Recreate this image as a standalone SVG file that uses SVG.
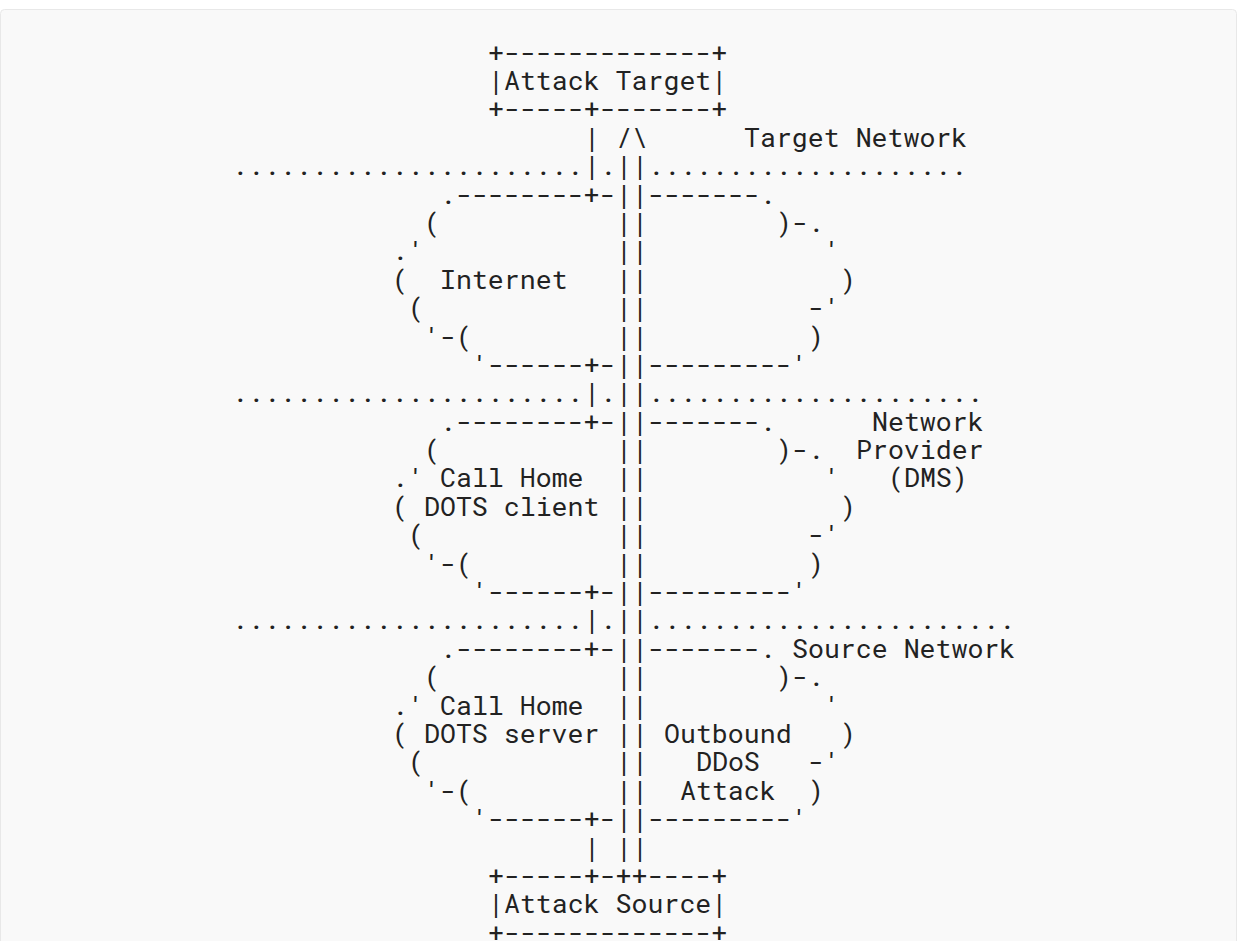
<svg xmlns="http://www.w3.org/2000/svg" width="1241" height="941" viewBox="0 0 1241 941">
<style>
text{font-family:"Roboto Mono","DejaVu Sans Mono","Liberation Mono",monospace;font-size:26.58px;fill:#222;white-space:pre}
</style>
<rect x="0.5" y="9.5" width="1236" height="960" rx="4" fill="#f9f9f9" stroke="#e8e8e8"/>
<g id="attack-target">
<text x="488" y="61.61">+-------------+</text>
<text x="488" y="90">|Attack Target|</text>
<text x="488" y="118.39">+-----+-------+</text>
</g>
<g id="target-network">
<text x="744" y="146.78">Target Network</text>
</g>
<g id="boundaries">
<text x="232" y="175.17">......................</text>
<text x="600" y="175.17">.</text>
<text x="648" y="175.17">....................</text>
<text x="232" y="402.29">......................</text>
<text x="600" y="402.29">.</text>
<text x="648" y="402.29">.....................</text>
<text x="232" y="629.41">......................</text>
<text x="600" y="629.41">.</text>
<text x="648" y="629.41">.......................</text>
</g>
<g id="cloud-internet">
<text x="440" y="203.56">.--------+-</text>
<text x="648" y="203.56">-------.</text>
<text x="424" y="231.95">(</text>
<text x="776" y="231.95">)-.</text>
<text x="392" y="260.34">.'</text>
<text x="824" y="260.34">'</text>
<text x="392" y="288.73">(</text>
<text x="440" y="288.73">Internet</text>
<text x="840" y="288.73">)</text>
<text x="408" y="317.12">(</text>
<text x="808" y="317.12">-'</text>
<text x="424" y="345.51">'-(</text>
<text x="808" y="345.51">)</text>
<text x="472" y="373.9">'------+-</text>
<text x="648" y="373.9">---------'</text>
</g>
<g id="cloud-provider">
<text x="440" y="430.68">.--------+-</text>
<text x="648" y="430.68">-------.</text>
<text x="424" y="459.07">(</text>
<text x="776" y="459.07">)-.</text>
<text x="392" y="487.46">.'</text>
<text x="440" y="487.46">Call Home</text>
<text x="824" y="487.46">'</text>
<text x="392" y="515.85">(</text>
<text x="424" y="515.85">DOTS client</text>
<text x="840" y="515.85">)</text>
<text x="408" y="544.24">(</text>
<text x="808" y="544.24">-'</text>
<text x="424" y="572.63">'-(</text>
<text x="808" y="572.63">)</text>
<text x="472" y="601.02">'------+-</text>
<text x="648" y="601.02">---------'</text>
</g>
<g id="network-provider-label">
<text x="872" y="430.68">Network</text>
<text x="856" y="459.07">Provider</text>
<text x="888" y="487.46">(DMS)</text>
</g>
<g id="cloud-source">
<text x="440" y="657.8">.--------+-</text>
<text x="648" y="657.8">-------.</text>
<text x="424" y="686.19">(</text>
<text x="776" y="686.19">)-.</text>
<text x="392" y="714.58">.'</text>
<text x="440" y="714.58">Call Home</text>
<text x="824" y="714.58">'</text>
<text x="392" y="742.97">(</text>
<text x="424" y="742.97">DOTS server</text>
<text x="840" y="742.97">)</text>
<text x="408" y="771.36">(</text>
<text x="808" y="771.36">-'</text>
<text x="424" y="799.75">'-(</text>
<text x="808" y="799.75">)</text>
<text x="472" y="828.14">'------+-</text>
<text x="648" y="828.14">---------'</text>
</g>
<g id="source-network">
<text x="792" y="657.8">Source Network</text>
</g>
<g id="attack-label">
<text x="664" y="742.97">Outbound</text>
<text x="696" y="771.36">DDoS</text>
<text x="680" y="799.75">Attack</text>
</g>
<g id="connectors">
<text x="584" y="146.78">|</text>
<text x="616" y="146.78">/\</text>
<text x="584" y="175.17">|</text>
<text x="584" y="402.29">|</text>
<text x="584" y="629.41">|</text>
<text x="584" y="856.53">|</text>
<text x="616" y="175.17">||</text>
<text x="616" y="203.56">||</text>
<text x="616" y="231.95">||</text>
<text x="616" y="260.34">||</text>
<text x="616" y="288.73">||</text>
<text x="616" y="317.12">||</text>
<text x="616" y="345.51">||</text>
<text x="616" y="373.9">||</text>
<text x="616" y="402.29">||</text>
<text x="616" y="430.68">||</text>
<text x="616" y="459.07">||</text>
<text x="616" y="487.46">||</text>
<text x="616" y="515.85">||</text>
<text x="616" y="544.24">||</text>
<text x="616" y="572.63">||</text>
<text x="616" y="601.02">||</text>
<text x="616" y="629.41">||</text>
<text x="616" y="657.8">||</text>
<text x="616" y="686.19">||</text>
<text x="616" y="714.58">||</text>
<text x="616" y="742.97">||</text>
<text x="616" y="771.36">||</text>
<text x="616" y="799.75">||</text>
<text x="616" y="828.14">||</text>
<text x="616" y="856.53">||</text>
</g>
<g id="attack-source">
<text x="488" y="884.92">+-----+-++----+</text>
<text x="488" y="913.31">|Attack Source|</text>
<text x="488" y="941.7">+-------------+</text>
</g>
</svg>
